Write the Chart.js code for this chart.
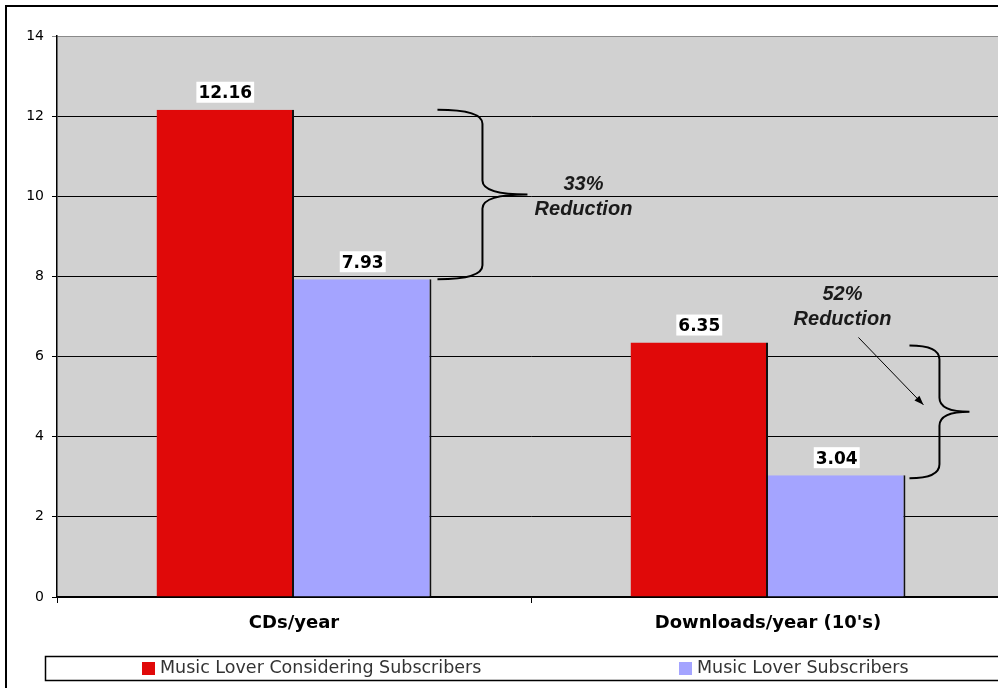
<!DOCTYPE html>
<html>
<head>
<meta charset="utf-8">
<script src="https://cdn.jsdelivr.net/npm/chart.js@4/dist/chart.umd.min.js"></script>
<style>
  html, body { margin: 0; padding: 0; background: #fff; overflow: hidden; }
  #wrap { width: 1020px; height: 688px; position: relative; }
</style>
</head>
<body>
<div id="wrap"><canvas id="c" width="1020" height="688"></canvas></div>
<script>
// Purchases per year, split by subscriber group
const categories = ['CDs/year', "Downloads/year (10's)"];
const considering = [12.16, 6.35];
const subscribers = [7.93, 3.04];
const seriesNames = ['Music Lover Considering Subscribers', 'Music Lover Subscribers'];
const yTicks = [0, 2, 4, 6, 8, 10, 12, 14];
const reductions = ['33%', '52%'];

const RED = '#E00909';
const BLUE = '#A4A4FF';
const PLOT_BG = '#D1D1D1';

// Plot background, outer frame
const backgroundPlugin = {
  id: 'plotBackground',
  beforeDraw(chart) {
    const { ctx, chartArea: a } = chart;
    ctx.save();
    ctx.fillStyle = '#fff';
    ctx.fillRect(0, 0, chart.width, chart.height);
    ctx.fillStyle = PLOT_BG;
    ctx.fillRect(a.left, a.top, a.right - a.left, a.bottom - a.top);
    ctx.restore();
  },
  afterDraw(chart) {
    const { ctx } = chart;
    ctx.save();
    ctx.strokeStyle = '#000';
    ctx.lineWidth = 2;
    ctx.beginPath();
    ctx.moveTo(6, chart.height);
    ctx.lineTo(6, 6);
    ctx.lineTo(chart.width, 6);
    ctx.stroke();
    ctx.restore();
  }
};

// Value labels in white boxes above each bar
const valueLabels = {
  id: 'valueLabels',
  afterDatasetsDraw(chart) {
    const { ctx } = chart;
    ctx.save();
    ctx.font = 'bold 17px "DejaVu Sans"';
    ctx.textAlign = 'center';
    ctx.textBaseline = 'middle';
    chart.data.datasets.forEach((ds, di) => {
      chart.getDatasetMeta(di).data.forEach((bar, i) => {
        const txt = ds.data[i].toFixed(2);
        const w = ctx.measureText(txt).width + 4;
        const cy = bar.y - 17;
        ctx.fillStyle = '#fff';
        ctx.fillRect(bar.x - w / 2, cy - 11, w, 21);
        ctx.fillStyle = '#000';
        ctx.fillText(txt, bar.x, cy + 1);
      });
    });
    ctx.restore();
  }
};

function brace(ctx, x0, top, bottom, depth) {
  const xv = x0 + depth / 2;
  const xt = x0 + depth;
  const mid = (top + bottom) / 2;
  const r = Math.min(14, (bottom - top) / 8);
  ctx.beginPath();
  ctx.moveTo(x0, top);
  ctx.quadraticCurveTo(xv, top, xv, top + r);
  ctx.lineTo(xv, mid - r);
  ctx.quadraticCurveTo(xv, mid, xt, mid);
  ctx.quadraticCurveTo(xv, mid, xv, mid + r);
  ctx.lineTo(xv, bottom - r);
  ctx.quadraticCurveTo(xv, bottom, x0, bottom);
  ctx.stroke();
}

// Braces, reduction notes and arrow
const reductionNotes = {
  id: 'reductionNotes',
  afterDatasetsDraw(chart) {
    const { ctx } = chart;
    const y = chart.scales.y;
    const blue = chart.getDatasetMeta(1).data;
    ctx.save();
    ctx.strokeStyle = '#000';
    ctx.lineWidth = 2;

    // CDs brace
    const b1x = blue[0].x + blue[0].width / 2 + 6;
    const t1 = y.getPixelForValue(considering[0]);
    const bt1 = y.getPixelForValue(subscribers[0]);
    brace(ctx, b1x, t1, bt1, 90);

    // Downloads brace
    const b2x = blue[1].x + blue[1].width / 2 + 4;
    const t2 = y.getPixelForValue(considering[1]) + 3;
    const bt2 = y.getPixelForValue(subscribers[1]) + 3;
    brace(ctx, b2x, t2, bt2, 60);

    ctx.fillStyle = '#1a1a1a';
    ctx.font = 'italic bold 20px "Liberation Sans"';
    ctx.textAlign = 'center';
    ctx.textBaseline = 'middle';
    const m1 = (t1 + bt1) / 2;
    const n1x = b1x + 146;
    ctx.fillText(reductions[0], n1x, m1 - 10);
    ctx.fillText('Reduction', n1x, m1 + 15);

    const n2x = b2x - 67;
    const n2y = y.getPixelForValue(7.55);
    ctx.fillText(reductions[1], n2x, n2y);
    ctx.fillText('Reduction', n2x, n2y + 25);

    // arrow toward the downloads brace
    const ax0 = n2x + 16, ay0 = n2y + 43;
    const ax1 = b2x + 14, ay1 = (t2 + bt2) / 2 - 7;
    ctx.lineWidth = 1;
    ctx.beginPath();
    ctx.moveTo(ax0, ay0);
    ctx.lineTo(ax1, ay1);
    ctx.stroke();
    const ang = Math.atan2(ay1 - ay0, ax1 - ax0);
    ctx.beginPath();
    ctx.moveTo(ax1, ay1);
    ctx.lineTo(ax1 - 10 * Math.cos(ang - 0.35), ay1 - 10 * Math.sin(ang - 0.35));
    ctx.lineTo(ax1 - 10 * Math.cos(ang + 0.35), ay1 - 10 * Math.sin(ang + 0.35));
    ctx.closePath();
    ctx.fillStyle = '#000';
    ctx.fill();
    ctx.restore();
  }
};

// Boxed legend under the axis
const boxLegend = {
  id: 'boxLegend',
  afterDraw(chart) {
    const { ctx } = chart;
    const top = 656, h = 24;
    ctx.save();
    ctx.fillStyle = '#fff';
    ctx.fillRect(45, top, chart.width, h);
    ctx.strokeStyle = '#000';
    ctx.lineWidth = 1.5;
    ctx.strokeRect(45.5, top + 0.5, chart.width, h);
    const xs = [142, 679];
    ctx.font = '17.5px "DejaVu Sans"';
    ctx.textBaseline = 'middle';
    chart.data.datasets.forEach((ds, i) => {
      ctx.fillStyle = ds.backgroundColor;
      ctx.fillRect(xs[i], top + 6, 13, 13);
      ctx.fillStyle = '#333';
      ctx.fillText(ds.label, xs[i] + 18, top + 12.5);
    });
    ctx.restore();
  }
};

new Chart(document.getElementById('c'), {
  type: 'bar',
  data: {
    labels: categories,
    datasets: [
      {
        label: seriesNames[0],
        data: considering,
        backgroundColor: RED,
        borderColor: '#111',
        borderWidth: { top: 0, left: 0, bottom: 0, right: 2 },
        borderSkipped: false
      },
      {
        label: seriesNames[1],
        data: subscribers,
        backgroundColor: BLUE,
        borderColor: '#111',
        borderWidth: { top: 0, left: 0, bottom: 0, right: 2 },
        borderSkipped: false
      }
    ]
  },
  options: {
    responsive: false,
    devicePixelRatio: 1,
    animation: false,
    layout: { padding: { top: 36, right: 15, bottom: 0, left: 0 } },
    categoryPercentage: 0.58,
    barPercentage: 1.0,
    plugins: {
      legend: { display: false },
      tooltip: { enabled: false }
    },
    scales: {
      x: {
        offset: true,
        grid: {
          offset: true,
          drawOnChartArea: false,
          drawTicks: true,
          tickLength: 6,
          color: '#000',
          lineWidth: 1
        },
        border: { color: '#000', width: 1.5 },
        ticks: {
          padding: 10,
          color: '#000',
          font: { family: 'DejaVu Sans', size: 18, weight: 'bold' }
        },
        afterFit(scale) { scale.height = 91; }
      },
      y: {
        min: 0,
        max: 14,
        afterBuildTicks(scale) { scale.ticks = yTicks.map(v => ({ value: v })); },
        grid: {
          color: ctx => (ctx.tick && ctx.tick.value === 14 ? '#8a8a8a' : '#000'),
          lineWidth: 1,
          tickLength: 5
        },
        border: { color: '#000', width: 1.5 },
        ticks: {
          padding: 8,
          color: '#000',
          font: { family: 'DejaVu Sans', size: 14 }
        },
        afterFit(scale) { scale.width = 57; }
      }
    }
  },
  plugins: [backgroundPlugin, valueLabels, reductionNotes, boxLegend]
});
</script>
</body>
</html>
